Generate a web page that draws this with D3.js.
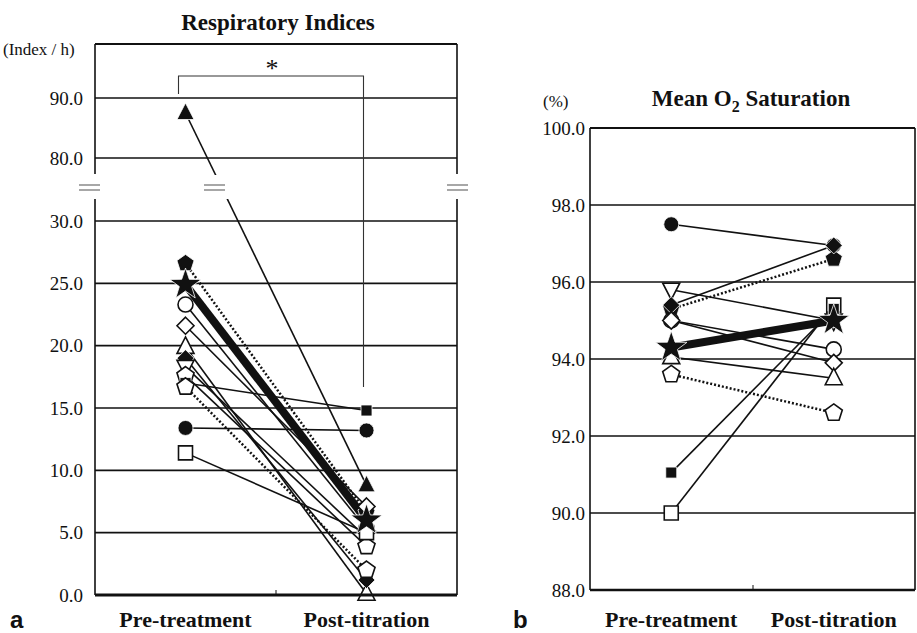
<!DOCTYPE html>
<meta charset="utf-8">
<script src="https://d3js.org/d3.v7.min.js"></script>
<style>
  body { margin: 0; background: #fff; }
  svg text { font-family: "Liberation Serif", "Times New Roman", Times, serif; fill: #111; }
</style>
<body>
<div id="chart"></div>
<script>

// ---- data ----
var categories = ["Pre-treatment", "Post-titration"];

// panel a : Respiratory Indices (index / h)
var riMarkers = ["triFill", "pentFill", "circleOpen", "diamondOpen", "triOpen", "diamondFill", "triDownOpen", "pentOpen2", "squareFill", "pentOpen", "circleFill", "squareOpen", "star"];
var riPre     = [87.5, 26.6, 23.3, 21.6, 19.9, 19.0, 18.3, 17.6, 17.0, 16.7, 13.4, 11.4, 24.9];
var riPost    = [8.8,  6.6,  5.3,  7.1,  0.1,  1.2,  4.6,  3.9,  14.8, 2.0,  13.2, 5.0,  6.0];
var riDotted  = [0, 1, 0, 0, 0, 0, 0, 0, 0, 1, 0, 0, 0];
var riTicksLow = [0, 5, 10, 15, 20, 25, 30];
var riTicksUp  = [80, 90];

// panel b : Mean O2 saturation (%)
var o2Markers = ["circleFill", "triDownOpen", "pentFill", "diamondFill", "circleOpen", "diamondOpen", "triOpen", "pentOpen", "squareOpen", "squareFill", "star"];
var o2Pre     = [97.5, 95.8, 95.3, 95.4, 95.0, 95.0, 94.05, 93.6, 90.0, 91.05, 94.3];
var o2Post    = [96.95, 95.0, 96.6, 96.95, 94.25, 93.9, 93.5, 92.6, 95.4, 95.3, 95.0];
var o2Dotted  = [0, 0, 1, 0, 0, 0, 0, 1, 0, 0, 0];
var o2Ticks   = [88, 90, 92, 94, 96, 98, 100];

var W = 917, H = 633;
var svg = d3.select("#chart").append("svg")
  .attr("width", W).attr("height", H);

// marker shapes
function poly(pts) { return "M" + pts.map(function(p){ return p[0].toFixed(2) + "," + p[1].toFixed(2); }).join("L") + "Z"; }
function shapePath(t) {
  var k = t.replace("Fill", "").replace("Open", "").replace("2", "");
  if (k == "circle") return d3.symbol(d3.symbolCircle, Math.PI * 7.5 * 7.5)();
  if (k == "square") { var s = t == "squareFill" ? 5.5 : 7; return poly([[-s,-s],[s,-s],[s,s],[-s,s]]); }
  if (k == "diamond") return poly([[0,-8.5],[8.5,0],[0,8.5],[-8.5,0]]);
  if (k == "tri") return poly([[0,-10],[8.5,6.5],[-8.5,6.5]]);
  if (k == "triDown") return poly([[0,10],[8.5,-6.5],[-8.5,-6.5]]);
  if (k == "pent" || k == "star") {
    var n = k == "star" ? 10 : 5, pts = [];
    for (var i = 0; i < n; i++) {
      var a = -Math.PI / 2 + i * 2 * Math.PI / n;
      var r = k == "star" ? (i % 2 ? 6.5 : 16.5) : 9;
      pts.push([r * Math.cos(a), r * Math.sin(a)]);
    }
    return poly(pts);
  }
}
function isFilled(t) { return t.indexOf("Fill") >= 0 || t == "star"; }

function drawSeries(g, x, y, markers, pre, post, dotted) {
  markers.forEach(function(m, i) {
    var line = g.append("line")
      .attr("x1", x(categories[0])).attr("y1", y(pre[i]))
      .attr("x2", x(categories[1])).attr("y2", y(post[i]))
      .attr("stroke", "#111")
      .attr("stroke-width", m == "star" ? 8 : (dotted[i] ? 2.5 : 1.6));
    if (dotted[i]) line.attr("stroke-dasharray", "2,2");
  });
  markers.forEach(function(m, i) {
    [pre[i], post[i]].forEach(function(v, j) {
      g.append("path")
        .attr("d", shapePath(m))
        .attr("transform", "translate(" + x(categories[j]) + "," + y(v) + ")")
        .attr("fill", isFilled(m) ? "#111" : "#fff")
        .attr("stroke", isFilled(m) ? "#fff" : "#111")
        .attr("stroke-width", isFilled(m) ? 0.8 : 1.6);
    });
  });
}

function styleTicks(g) {
  g.select(".domain").remove();
  g.attr("font-family", null);
  g.selectAll("text").style("font-size", "19px").attr("fill", "#111");
}

// ================= panel a =================
var ga = svg.append("g");
var xA = d3.scalePoint().domain(categories).range([95, 457]).padding(0.5);
var yLow = d3.scaleLinear().domain([0, 30]).range([595, 221]);
var yUp  = d3.scaleLinear().domain([80, 90]).range([158, 98]);
function yA(v) { return v > 50 ? yUp(v) : yLow(v); }

// gridlines
riTicksLow.slice(1).forEach(function(t) {
  ga.append("line").attr("x1", 95).attr("x2", 457).attr("y1", yLow(t)).attr("y2", yLow(t))
    .attr("stroke", "#111").attr("stroke-width", 1.7);
});
riTicksUp.forEach(function(t) {
  ga.append("line").attr("x1", 95).attr("x2", 457).attr("y1", yUp(t)).attr("y2", yUp(t))
    .attr("stroke", "#111").attr("stroke-width", 1.7);
});
// frame (broken)
ga.append("line").attr("x1", 95).attr("x2", 457).attr("y1", yUp(99)).attr("y2", yUp(99)).attr("stroke", "#111").attr("stroke-width", 1.8);
[95, 457].forEach(function(xx) {
  ga.append("line").attr("x1", xx).attr("x2", xx).attr("y1", yUp(99)).attr("y2", 174).attr("stroke", "#111").attr("stroke-width", 1.6);
  ga.append("line").attr("x1", xx).attr("x2", xx).attr("y1", 199).attr("y2", 595).attr("stroke", "#111").attr("stroke-width", 1.6);
});

drawSeries(ga, xA, yA, riMarkers, riPre, riPost, riDotted);

// axis break gap
ga.append("rect").attr("x", 60).attr("y", 175).attr("width", 420).attr("height", 24).attr("fill", "#fff");
[79, 204, 447].forEach(function(bx) {
  [185, 190].forEach(function(by) {
    ga.append("line").attr("x1", bx).attr("x2", bx + 21).attr("y1", by).attr("y2", by)
      .attr("stroke", "#777").attr("stroke-width", 1.3);
  });
});

// bottom axis
ga.append("line").attr("x1", 95).attr("x2", 457).attr("y1", 595).attr("y2", 595).attr("stroke", "#111").attr("stroke-width", 3);
ga.append("line").attr("x1", 276).attr("x2", 276).attr("y1", 595).attr("y2", 590).attr("stroke", "#111").attr("stroke-width", 1);

// y labels
ga.append("g").attr("transform", "translate(95,0)")
  .call(d3.axisLeft(yLow).tickValues(riTicksLow).tickFormat(d3.format(".1f")).tickSize(0).tickPadding(12))
  .call(styleTicks);
ga.append("g").attr("transform", "translate(95,0)")
  .call(d3.axisLeft(yUp).tickValues(riTicksUp).tickFormat(d3.format(".1f")).tickSize(0).tickPadding(12))
  .call(styleTicks);

// significance bracket
ga.append("path")
  .attr("d", "M" + (xA(categories[0]) - 7) + ",94V76H" + (xA(categories[1]) - 3) + "V387")
  .attr("fill", "none").attr("stroke", "#333").attr("stroke-width", 1.1);
ga.append("text").attr("x", 272).attr("y", 77).attr("text-anchor", "middle")
  .style("font-size", "26px").text("*");

ga.append("text").attr("x", 278).attr("y", 30).attr("text-anchor", "middle")
  .style("font-size", "23px").style("font-weight", "bold").text("Respiratory Indices");
ga.append("text").attr("x", 3).attr("y", 55).style("font-size", "17px").text("(Index / h)");

// ================= panel b =================
var gb = svg.append("g");
var xB = d3.scalePoint().domain(categories).range([590, 915]).padding(0.5);
var yB = d3.scaleLinear().domain([88, 100]).range([590, 128]);

o2Ticks.slice(1, -1).forEach(function(t) {
  gb.append("line").attr("x1", 590).attr("x2", 915).attr("y1", yB(t)).attr("y2", yB(t))
    .attr("stroke", "#111").attr("stroke-width", 1.7);
});
gb.append("line").attr("x1", 590).attr("x2", 915).attr("y1", yB(100)).attr("y2", yB(100)).attr("stroke", "#111").attr("stroke-width", 1.8);
[590, 915].forEach(function(xx) {
  gb.append("line").attr("x1", xx).attr("x2", xx).attr("y1", yB(100)).attr("y2", yB(88)).attr("stroke", "#111").attr("stroke-width", 1.6);
});

drawSeries(gb, xB, yB, o2Markers, o2Pre, o2Post, o2Dotted);

gb.append("line").attr("x1", 590).attr("x2", 915).attr("y1", yB(88)).attr("y2", yB(88)).attr("stroke", "#111").attr("stroke-width", 2.5);
gb.append("line").attr("x1", 753).attr("x2", 753).attr("y1", yB(88)).attr("y2", yB(88) - 5).attr("stroke", "#111").attr("stroke-width", 1);

gb.append("g").attr("transform", "translate(590,0)")
  .call(d3.axisLeft(yB).tickValues(o2Ticks).tickFormat(d3.format(".1f")).tickSize(0).tickPadding(5))
  .call(styleTicks);

var t2 = gb.append("text").attr("x", 751).attr("y", 106).attr("text-anchor", "middle")
  .style("font-size", "23px").style("font-weight", "bold");
t2.append("tspan").text("Mean O");
t2.append("tspan").attr("dy", 6).style("font-size", "16px").text("2");
t2.append("tspan").attr("dy", -6).text(" Saturation");
gb.append("text").attr("x", 543).attr("y", 107).style("font-size", "17px").text("(%)");

// ================= category labels =================
[[xA, "a", 10], [xB, "b", 513]].forEach(function(p) {
  categories.forEach(function(c) {
    svg.append("text").attr("x", p[0](c)).attr("y", 627).attr("text-anchor", "middle")
      .style("font-size", "22px").style("font-weight", "bold").text(c);
  });
  svg.append("text").attr("x", p[2]).attr("y", 628)
    .style("font-family", "'Liberation Sans', Arial, sans-serif").style("font-size", "24px").style("font-weight", "bold").text(p[1]);
});
</script>
</body>
